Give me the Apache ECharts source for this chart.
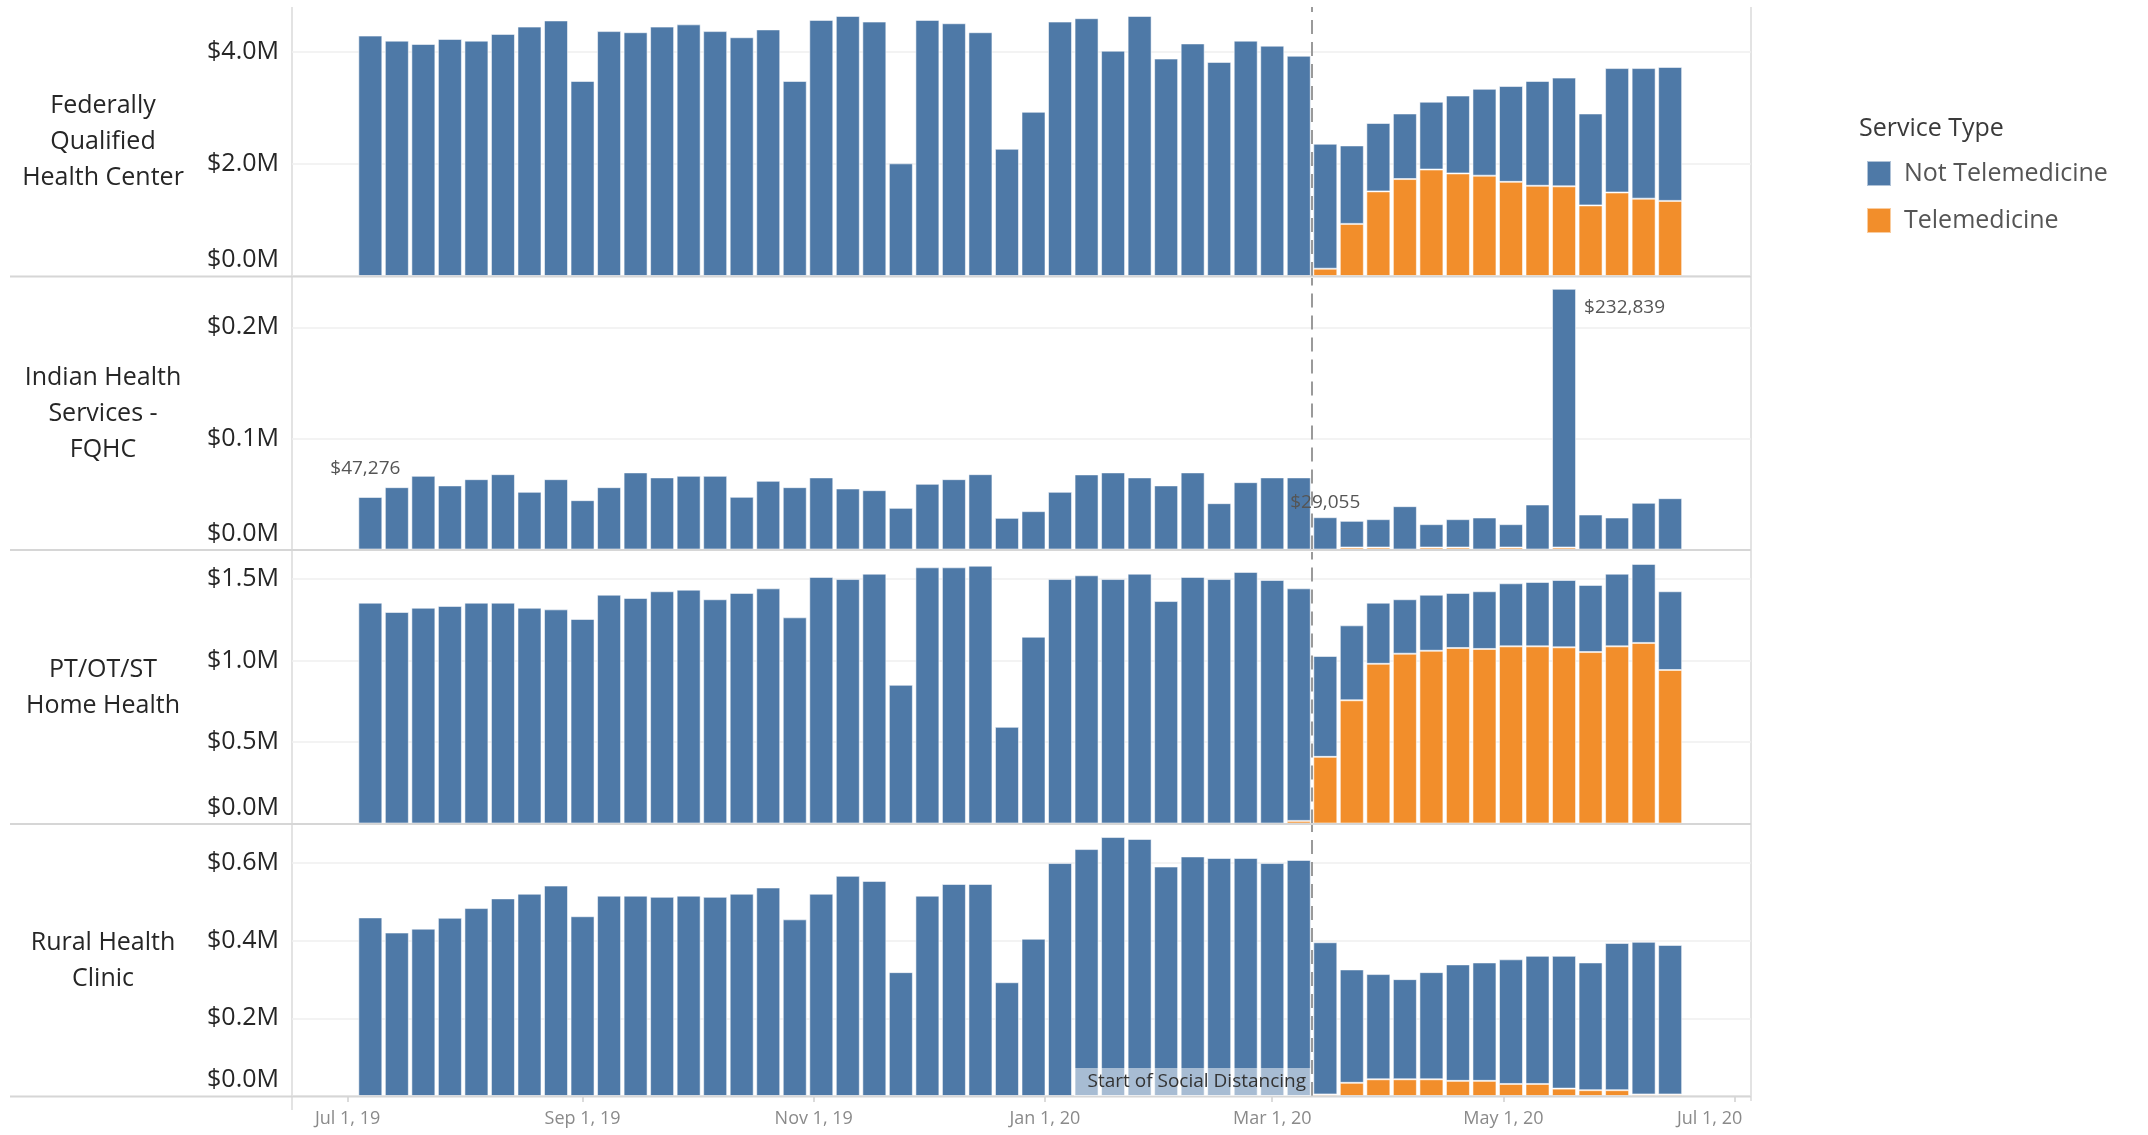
<!DOCTYPE html>
<html><head><meta charset="utf-8">
<script src="https://cdn.jsdelivr.net/npm/echarts@6/dist/echarts.min.js"></script>
<style>html,body{margin:0;padding:0;background:#fff}#c{width:2148px;height:1135px}</style>
</head><body><div id="c"></div>
<script>
// ---------------- DATA ----------------
const weeks = ['2019-07-07','2019-07-14','2019-07-21','2019-07-28','2019-08-04','2019-08-11','2019-08-18','2019-08-25',
 '2019-09-01','2019-09-08','2019-09-15','2019-09-22','2019-09-29','2019-10-06','2019-10-13','2019-10-20','2019-10-27',
 '2019-11-03','2019-11-10','2019-11-17','2019-11-24','2019-12-01','2019-12-08','2019-12-15','2019-12-22','2019-12-29',
 '2020-01-05','2020-01-12','2020-01-19','2020-01-26','2020-02-02','2020-02-09','2020-02-16','2020-02-23',
 '2020-03-01','2020-03-08','2020-03-15','2020-03-22','2020-03-29','2020-04-05','2020-04-12','2020-04-19','2020-04-26',
 '2020-05-03','2020-05-10','2020-05-17','2020-05-24','2020-05-31','2020-06-07','2020-06-14'];

const rowLabels = ['Federally\nQualified\nHealth Center', 'Indian Health\nServices -\nFQHC', 'PT/OT/ST\nHome Health', 'Rural Health\nClinic'];
const seriesNames = ['Not Telemedicine', 'Telemedicine'];
const legendTitle = 'Service Type';

const fqhcNotTele = [4290000,4200000,4140000,4230000,4200000,4320000,4450000,4560000,3480000,4370000,
 4350000,4450000,4490000,4370000,4260000,4400000,3480000,4570000,4640000,4540000,
 2010000,4570000,4510000,4350000,2270000,2930000,4540000,4600000,4020000,4640000,
 3880000,4150000,3820000,4200000,4110000,3930000,
 2230000,1400000,1220000,1170000,1210000,1390000,1550000,1710000,1870000,1940000,1640000,2220000,2330000,2390000];
const fqhcTele = [0,0,0,0,0,0,0,0,0,0, 0,0,0,0,0,0,0,0,0,0, 0,0,0,0,0,0,0,0,0,0, 0,0,0,0,0,0,
 130000,930000,1510000,1730000,1900000,1830000,1790000,1680000,1610000,1600000,1260000,1490000,1380000,1340000];

const ihsNotTele = [47276,56100,66300,57700,63300,67800,51900,63300,44400,56100,
 69400,64900,66300,66300,47400,61800,56100,64900,54900,53400,
 37500,59100,63300,67800,28500,34500,51900,67600,69400,64900,
 57700,69400,41700,60600,64900,64900,
 29055,24000,25500,39000,21000,25500,28800,21000,40500,232839,31500,28800,42000,46200];
const ihsTele = [0,0,0,0,0,0,0,0,0,0, 0,0,0,0,0,0,0,0,0,0, 0,0,0,0,0,0,0,0,0,0, 0,0,0,0,0,0,
 0,1800,1800,0,1800,1800,0,1800,0,1800,0,0,0,0];
const ihsLabelWeeks = ['2019-07-07', '2020-03-15', '2020-05-17'];

const ptNotTele = [1355000,1298000,1324000,1335000,1355000,1355000,1324000,1314000,1255000,1404000,
 1384000,1425000,1435000,1376000,1415000,1443000,1265000,1513000,1500000,1533000,
 851000,1572000,1572000,1582000,593000,1146000,1500000,1523000,1500000,1533000,
 1365000,1513000,1500000,1544000,1494000,1427000,
 619000,460000,375000,334000,344000,338000,354000,387000,395000,413000,412000,446000,485000,483000];
const ptTele = [0,0,0,0,0,0,0,0,0,0, 0,0,0,0,0,0,0,0,0,0, 0,0,0,0,0,0,0,0,0,0, 0,0,0,0,0,16000,
 409000,756000,980000,1042000,1060000,1077000,1071000,1087000,1087000,1081000,1052000,1087000,1108000,942000];

const ruralNotTele = [460000,421000,431000,459000,484000,509000,521000,542000,463000,516000,
 516000,513000,516000,513000,521000,537000,455000,521000,567000,554000,
 319000,516000,546000,546000,293000,405000,600000,636000,667000,662000,
 591000,617000,613000,613000,600000,608000,
 392000,292000,271000,258000,276000,300000,305000,321000,330000,342000,329000,379000,393000,385000];
const ruralTele = [0,0,0,0,0,0,0,0,0,0, 0,0,0,0,0,0,0,0,0,0, 0,0,0,0,0,0,0,0,0,0, 0,0,0,0,0,0,
 4000,34000,43000,43000,43000,39000,39000,31000,31000,19000,15000,15000,4000,4000];

const tickDates = ['2019-07-01','2019-09-01','2019-11-01','2020-01-01','2020-03-01','2020-05-01','2020-07-01'];
const tickLabels = ['Jul 1, 19','Sep 1, 19','Nov 1, 19','Jan 1, 20','Mar 1, 20','May 1, 20','Jul 1, 20'];
const xRange = ['2019-06-16T08:00:00', '2020-07-05T08:00:00'];
const yMax = [4800000, 244400, 1666000, 698000];
const yInterval = [2000000, 100000, 500000, 200000];
const distancingDate = '2020-03-11T12:00:00';
const distancingLabel = 'Start of Social Distancing';

// ---------------- CHART ----------------
const P = s => echarts.time.parse(s).getTime();
const tickTs = tickDates.map(P);
const distTs = P(distancingDate);
const xMin = P(xRange[0]), xMax = P(xRange[1]);
const rows = [[fqhcNotTele, fqhcTele],[ihsNotTele, ihsTele],[ptNotTele, ptTele],[ruralNotTele, ruralTele]];

const FONT = '"Open Sans", "Liberation Sans", sans-serif';
const TXT = '#262626';
const BLUE = '#4e79a7', ORANGE = '#f28e2b';
const L = 292, R = 1751;
const gridTops = [7, 278, 552, 825];
const gridBottoms = [276, 549.5, 823.5, 1096];

const grids = [], xAxes = [], yAxes = [], series = [], graphics = [];
const labelStyles = [
  {position: 'top', distance: 19, offset: [-5, 0]},
  {position: 'top', distance: 5},
  {position: ['100%', 0], offset: [8, 9], align: 'left', verticalAlign: 'top'}
];

rows.forEach((r, i) => {
  grids.push({left: L, width: R - L, top: gridTops[i], height: gridBottoms[i] - gridTops[i]});
  const last = i === 3;
  xAxes.push({
    type: 'value', gridIndex: i, min: xMin, max: xMax,
    axisLine: {show: false}, splitLine: {show: false},
    axisTick: {show: last, customValues: tickTs, length: 6, lineStyle: {color: '#cfcfcf', width: 1.5}},
    axisLabel: {show: last, customValues: tickTs, margin: 14, fontSize: 18, color: '#8a8a8a', fontFamily: FONT,
      formatter: v => {
        const k = tickTs.findIndex(t => Math.abs(t - v) < 3600000);
        if (k < 0) return '';
        return k === tickTs.length - 1 ? '{e|' + tickLabels[k] + '}' : tickLabels[k];
      },
      rich: {e: {fontSize: 18, color: '#8a8a8a', fontFamily: FONT, padding: [0, 50, 0, 0]}}}
  });
  yAxes.push({
    type: 'value', gridIndex: i, min: 0, max: yMax[i], interval: yInterval[i],
    axisLine: {show: false}, axisTick: {show: false},
    splitLine: {show: true, showMaxLine: false, lineStyle: {color: '#efefef', width: 1.5}},
    axisLabel: {showMaxLabel: false, margin: 13, fontSize: 25, color: TXT, fontFamily: FONT,
      formatter: v => { const s = '$' + (v / 1e6).toFixed(1) + 'M'; return v === 0 ? '{z|' + s + '}' : s; },
      rich: {z: {fontSize: 25, color: TXT, fontFamily: FONT, padding: [0, 0, 32, 0]}}}
  });
  const [nt, te] = r;
  // rows are [amount, week]; the amount column comes first so that it is the stacked dimension
  series.push({
    name: seriesNames[1], type: 'bar', xAxisIndex: i, yAxisIndex: i, stack: 'row' + i, barWidth: 24,
    encode: {x: 1, y: 0},
    itemStyle: {color: ORANGE, borderColor: 'rgba(255,255,255,0.55)', borderWidth: 1},
    data: weeks.map((w, k) => [te[k], P(w)])
  });
  series.push({
    name: seriesNames[0], type: 'bar', xAxisIndex: i, yAxisIndex: i, stack: 'row' + i, barWidth: 24,
    encode: {x: 1, y: 0},
    itemStyle: {color: BLUE, borderColor: 'rgba(255,255,255,0.55)', borderWidth: 1},
    data: weeks.map((w, k) => {
      const li = i === 1 ? ihsLabelWeeks.indexOf(w) : -1;
      if (li < 0) return [nt[k], P(w)];
      return {value: [nt[k], P(w)], label: Object.assign({show: true, fontSize: 19, color: '#555', fontFamily: FONT,
        formatter: () => '$' + nt[k].toLocaleString('en-US')}, labelStyles[li])};
    }),
    markLine: {silent: true, symbol: ['none', 'none'], label: {show: false},
      lineStyle: {color: '#9a9a9a', type: [14, 8], width: 2},
      data: [{xAxis: distTs}]}
  });
  graphics.push({type: 'text', id: 'rl' + i, x: 103, y: (gridTops[i] + gridBottoms[i]) / 2,
    style: {text: rowLabels[i], align: 'center', verticalAlign: 'middle', fontSize: 25, lineHeight: 36,
      fontFamily: FONT, fill: TXT}});
  graphics.push({type: 'line', id: 'sep' + i, shape: {x1: 10, y1: gridBottoms[i] + 0.5, x2: R, y2: gridBottoms[i] + 0.5},
    style: {stroke: '#d6d6d6', lineWidth: 2}, z: 10});
});
graphics.push({type: 'line', id: 'vl', shape: {x1: L, y1: 7, x2: L, y2: 1110}, style: {stroke: '#dadada', lineWidth: 1.5}});
graphics.push({type: 'line', id: 'vr', shape: {x1: R, y1: 7, x2: R, y2: 1101}, style: {stroke: '#dadada', lineWidth: 1.5}});

const chart = echarts.init(document.getElementById('c'), null, {renderer: 'canvas'});
chart.setOption({
  animation: false,
  textStyle: {fontFamily: FONT},
  title: {text: legendTitle, left: 1854, top: 111, textStyle: {fontSize: 25, fontWeight: 'normal', color: '#3a3a3a', fontFamily: FONT}},
  legend: {data: seriesNames, orient: 'vertical', left: 1866, top: 160, itemWidth: 24, itemHeight: 25, itemGap: 20,
    icon: 'rect', padding: 0, textStyle: {fontSize: 25, color: '#555', fontFamily: FONT, padding: [0, 0, 0, 8]}},
  grid: grids, xAxis: xAxes, yAxis: yAxes, series: series,
  graphic: {elements: graphics}
});

const px = chart.convertToPixel({xAxisIndex: 3}, distTs);
chart.setOption({graphic: {elements: [
  {type: 'rect', id: 'sdbox', shape: {x: px - 238, y: 1068, width: 237, height: 28}, style: {fill: 'rgba(255,255,255,0.5)'}, z: 20},
  {type: 'text', id: 'sdtext', x: px - 6, y: 1082, z: 21,
    style: {text: distancingLabel, align: 'right', verticalAlign: 'middle', fontSize: 19, fontFamily: FONT, fill: '#333'}}
]}});
</script>
</body></html>
